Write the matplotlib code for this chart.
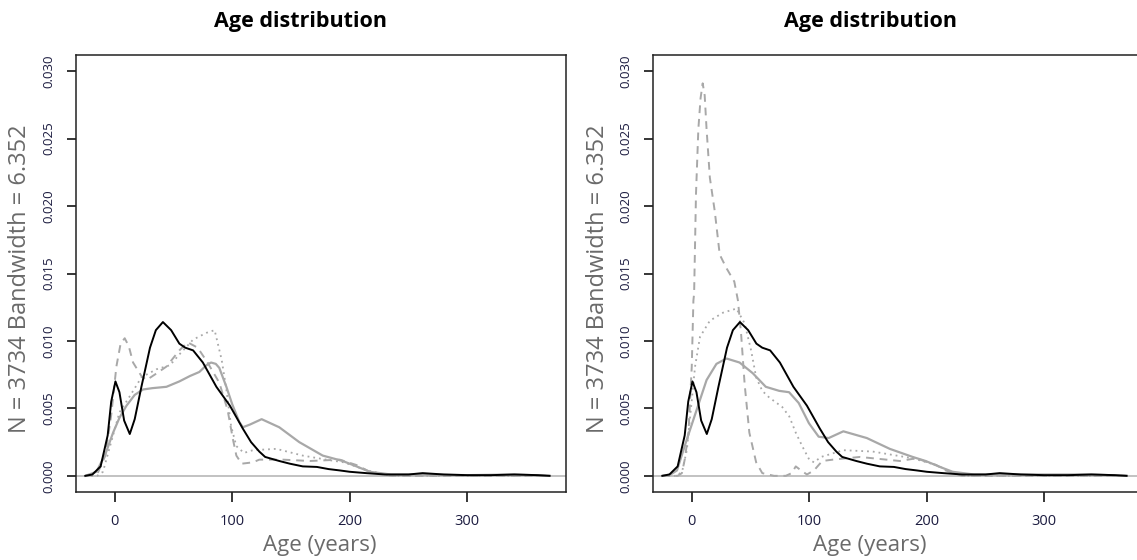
import matplotlib
matplotlib.use("Agg")
import matplotlib.pyplot as plt

# black solid curve (same in both panels)
black_x = [-25, -19, -12, -6, -3, 0.6, 4, 8, 12.8, 17, 22.7, 30, 35, 41, 48, 55, 60, 66.7, 75, 86.5,
           98, 109, 116, 123, 128, 140, 149, 160, 172, 182, 191.5, 200, 214, 230, 250, 262, 280,
           300, 320, 340, 360, 370]
black_y = [0, 0.0001, 0.0007, 0.003, 0.0055, 0.0070, 0.0062, 0.0041, 0.0031, 0.0042, 0.0066, 0.0095,
           0.0108, 0.0114, 0.0108, 0.0098, 0.0095, 0.0093, 0.0084, 0.0066, 0.0052, 0.0035, 0.0025,
           0.0018, 0.0014, 0.0011, 0.0009, 0.0007, 0.00066, 0.0005, 0.0004, 0.0003, 0.0002, 0.0001,
           0.0001, 0.0002, 0.0001, 0.00005, 0.00005, 0.0001, 0.00005, 0]

# left panel, grey curves
l_solid_x = [-25, -15.6, -8, -1.4, 4, 10, 17, 24, 32, 44, 55, 64, 72, 78, 82, 86, 89, 95, 100, 106,
             109, 115, 125, 140, 157, 177, 194, 205.7, 217, 235, 260, 300, 340, 370]
l_solid_y = [0, 0.0003, 0.0016, 0.0032, 0.0043, 0.0052, 0.006, 0.0064, 0.0065, 0.0066, 0.0070, 0.0074,
             0.0077, 0.0082, 0.0084, 0.0083, 0.008, 0.0066, 0.0053, 0.004, 0.0036, 0.0038, 0.0042,
             0.0036, 0.0025, 0.0015, 0.0011, 0.0007, 0.0003, 0.0001, 0.0001, 0.00005, 0.0001, 0]

l_dash_x = [-25, -15, -8, -3, 1.4, 5, 8.5, 12, 15.6, 22.7, 27, 34, 44, 55, 62, 70.6, 79, 89, 96,
            100.6, 103.5, 108, 117.6, 123, 143, 166, 191.5, 205.7, 217, 235, 370]
l_dash_y = [0, 0.0001, 0.0015, 0.0045, 0.0081, 0.0098, 0.0102, 0.0096, 0.0084, 0.0074, 0.0071, 0.0075,
            0.0081, 0.0093, 0.0099, 0.0095, 0.0084, 0.0069, 0.0049, 0.0027, 0.0015, 0.0009, 0.001,
            0.0012, 0.0012, 0.0011, 0.0012, 0.0008, 0.0003, 0, 0]

l_dot_x = [-25, -15, -10, -4, 4, 12.8, 22.7, 35.5, 47, 55, 66.7, 78, 85, 91, 95, 99, 103.5, 110,
           117.6, 137.6, 160, 180, 195, 215, 235, 370]
l_dot_y = [0, 0, 0.0003, 0.0022, 0.0047, 0.0059, 0.0073, 0.0079, 0.0082, 0.009, 0.0101, 0.0106, 0.0108,
           0.0086, 0.0064, 0.0037, 0.0022, 0.0017, 0.0019, 0.002, 0.0015, 0.0012, 0.001, 0.0004, 0, 0]

# right panel, grey curves
r_solid_x = [-25, -18, -12.6, -4.2, 4.2, 12.6, 21, 29.5, 40.7, 52, 63, 74.4, 82.8, 91, 99.7, 108,
             116.5, 129, 149, 168.5, 188, 199, 213, 222, 240, 300, 340, 370]
r_solid_y = [0, 0.0001, 0.0004, 0.0027, 0.0049, 0.0071, 0.0083, 0.0087, 0.0084, 0.0076, 0.0066, 0.0063,
             0.0062, 0.0054, 0.0039, 0.0029, 0.0028, 0.0033, 0.0028, 0.002, 0.0014, 0.0011, 0.0006,
             0.0003, 0.0001, 0.0001, 0.0001, 0]

r_dash_x = [-25, -12, -8.4, -6, -2.8, 0, 1.4, 2, 3.6, 5.6, 7.5, 9.3, 11, 12.6, 15.4, 19.6, 23.8, 29.5,
            36.2, 39.3, 42, 45, 49, 54.8, 60, 70, 80, 85, 88.5, 93, 98, 104, 111, 120, 143, 177, 191,
            208, 216, 230, 370]
r_dash_y = [0, 0, 0.0002, 0.0012, 0.0032, 0.0081, 0.013, 0.0135, 0.0209, 0.0257, 0.028, 0.0291, 0.0282,
            0.0257, 0.0221, 0.0196, 0.0164, 0.0154, 0.0144, 0.013, 0.0105, 0.0068, 0.0032, 0.001,
            0.0002, 0, 0, 0.0002, 0.0007, 0.0004, 0.0001, 0.0004, 0.0011, 0.0012, 0.0014, 0.0011,
            0.0013, 0.0008, 0.0004, 0, 0]

r_dot_x = [-25, -12, -8, -4.2, 0, 2.8, 7, 15.4, 26.7, 38, 45, 50.5, 54.8, 60, 66, 77, 83, 88.5, 94,
           100, 104, 110, 129, 154, 188, 208, 220, 235, 370]
r_dot_y = [0, 0, 0.0004, 0.0019, 0.0056, 0.0081, 0.0103, 0.0115, 0.0121, 0.0124, 0.0113, 0.0093, 0.0073,
           0.0063, 0.0058, 0.0051, 0.0044, 0.0032, 0.0022, 0.0012, 0.001, 0.0014, 0.0019, 0.0018,
           0.0013, 0.0008, 0.0003, 0, 0]

xticks = [0, 100, 200, 300]
yticks = [0.000, 0.005, 0.010, 0.015, 0.020, 0.025, 0.030]
ytick_labels = ["0.000", "0.005", "0.010", "0.015", "0.020", "0.025", "0.030"]

title_text = "Age distribution"
ylabel_text = "N = 3734 Bandwidth = 6.352"
xlabel_text = "Age (years)"

plt.rcParams['font.family'] = ['Open Sans', 'DejaVu Sans']

fig = plt.figure(figsize=(11.37, 5.6), dpi=100)
ax1 = fig.add_axes([0.0668, 0.1214, 0.431, 0.7804])
ax2 = fig.add_axes([0.5743, 0.1214, 0.431, 0.7804])

grey = '#a8a8a8'
panels = [
    (ax1, (l_solid_x, l_solid_y), (l_dash_x, l_dash_y), (l_dot_x, l_dot_y)),
    (ax2, (r_solid_x, r_solid_y), (r_dash_x, r_dash_y), (r_dot_x, r_dot_y)),
]

for ax, solid, dash, dot in panels:
    ax.axhline(0, color='#bdbdbd', lw=1.3, zorder=1)
    ax.plot(dot[0], dot[1], color=grey, lw=1.3, linestyle=(0, (1, 2.2)), zorder=2)
    ax.plot(dash[0], dash[1], color=grey, lw=1.4, linestyle=(0, (4, 3)), zorder=2)
    ax.plot(solid[0], solid[1], color=grey, lw=1.6, zorder=3)
    ax.plot(black_x, black_y, color='black', lw=1.4, zorder=4)

    ax.set_xlim(-33, 384)
    ax.set_ylim(-0.0012, 0.0312)
    ax.set_xticks(xticks)
    ax.set_yticks(yticks)
    ax.set_yticklabels(ytick_labels)
    ax.tick_params(axis='x', direction='out', length=7.5, width=1.1, pad=8,
                   labelsize=10.5, labelcolor='#1c1c40')
    ax.tick_params(axis='y', direction='out', length=6.5, width=1.1, pad=8,
                   labelsize=9.5, labelcolor='#1c1c40', labelrotation=90)
    for lab in ax.get_yticklabels():
        lab.set_va('center')
    for sp in ax.spines.values():
        sp.set_linewidth(1.1)
        sp.set_color('#222222')

# titles and axis labels placed by hand, as in the reference
for cx in [300, 871]:
    fig.text(cx / 1137, 1 - 22 / 560, title_text, ha='center', va='center',
             fontsize=15.5, fontweight='bold', color='black')
for cx in [320, 870]:
    fig.text(cx / 1137, 1 - 546 / 560, xlabel_text, ha='center', va='center',
             fontsize=16, color='#6a6a6a')
for cx in [20, 598]:
    fig.text(cx / 1137, 1 - 279 / 560, ylabel_text, ha='center', va='center',
             rotation=90, fontsize=17, color='#6a6a6a')

fig.savefig('out.png', dpi=100)
